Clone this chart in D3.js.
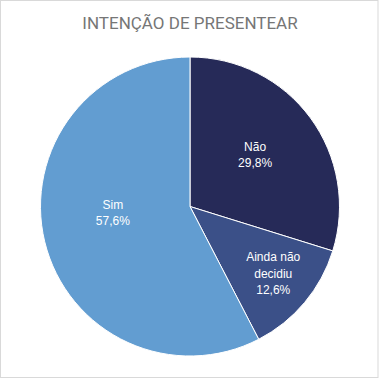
<!DOCTYPE html>
<html><head><meta charset="utf-8">
<script src="https://cdn.jsdelivr.net/npm/d3@7"></script>
<style>body{margin:0;background:#fff}svg{display:block}</style>
</head><body>
<svg id="c" width="383" height="379"></svg>
<script>
const categories = ["Não", "Ainda não decidiu", "Sim"];
const labelLines = [["Não"], ["Ainda não", "decidiu"], ["Sim"]];
const values = [29.8, 12.6, 57.6];
const valueLabels = ["29,8%", "12,6%", "57,6%"];
const colors = ["#262a58", "#3b5088", "#629dd1"];
const labelRadiusFactor = [0.555, 0.716, 0.518];
const labelAngleShift = [-2, -1, 9];

const svg = d3.select("#c");
svg.append("rect").attr("x",0.5).attr("y",0.5).attr("width",377.5).attr("height",377)
  .attr("fill","#fff").attr("stroke","#d9d9d9").attr("stroke-width",1);

svg.append("text").attr("x",190).attr("y",29).attr("text-anchor","middle")
  .attr("font-family","Roboto, 'Liberation Sans', sans-serif").attr("font-size",17)
  .attr("fill","#767676").text("INTENÇÃO DE PRESENTEAR");

const cx = 190, cy = 206.5, R = 149.5;
const g = svg.append("g").attr("transform",`translate(${cx},${cy})`);
const pie = d3.pie().sort(null).value(d=>d)(values);
const arc = d3.arc().innerRadius(0).outerRadius(R);
g.selectAll("path").data(pie).join("path")
  .attr("d",arc).attr("fill",(d,i)=>colors[i])
  .attr("stroke","#fff").attr("stroke-width",1);

pie.forEach((d,i)=>{
  const r = R*labelRadiusFactor[i];
  const a = (d.startAngle + d.endAngle)/2 + labelAngleShift[i]*Math.PI/180;
  const x = r*Math.sin(a), y = -r*Math.cos(a);
  const lines = labelLines[i].concat([valueLabels[i]]);
  const lh = 16.4;
  const t = g.append("text").attr("text-anchor","middle")
    .attr("font-family","Arial, 'Liberation Sans', sans-serif").attr("font-size",12)
    .attr("fill","#fff");
  lines.forEach((s,k)=>{
    t.append("tspan").attr("x",x).attr("y",y + (k-(lines.length-1)/2)*lh + 4).text(s);
  });
});
</script>
</body></html>
